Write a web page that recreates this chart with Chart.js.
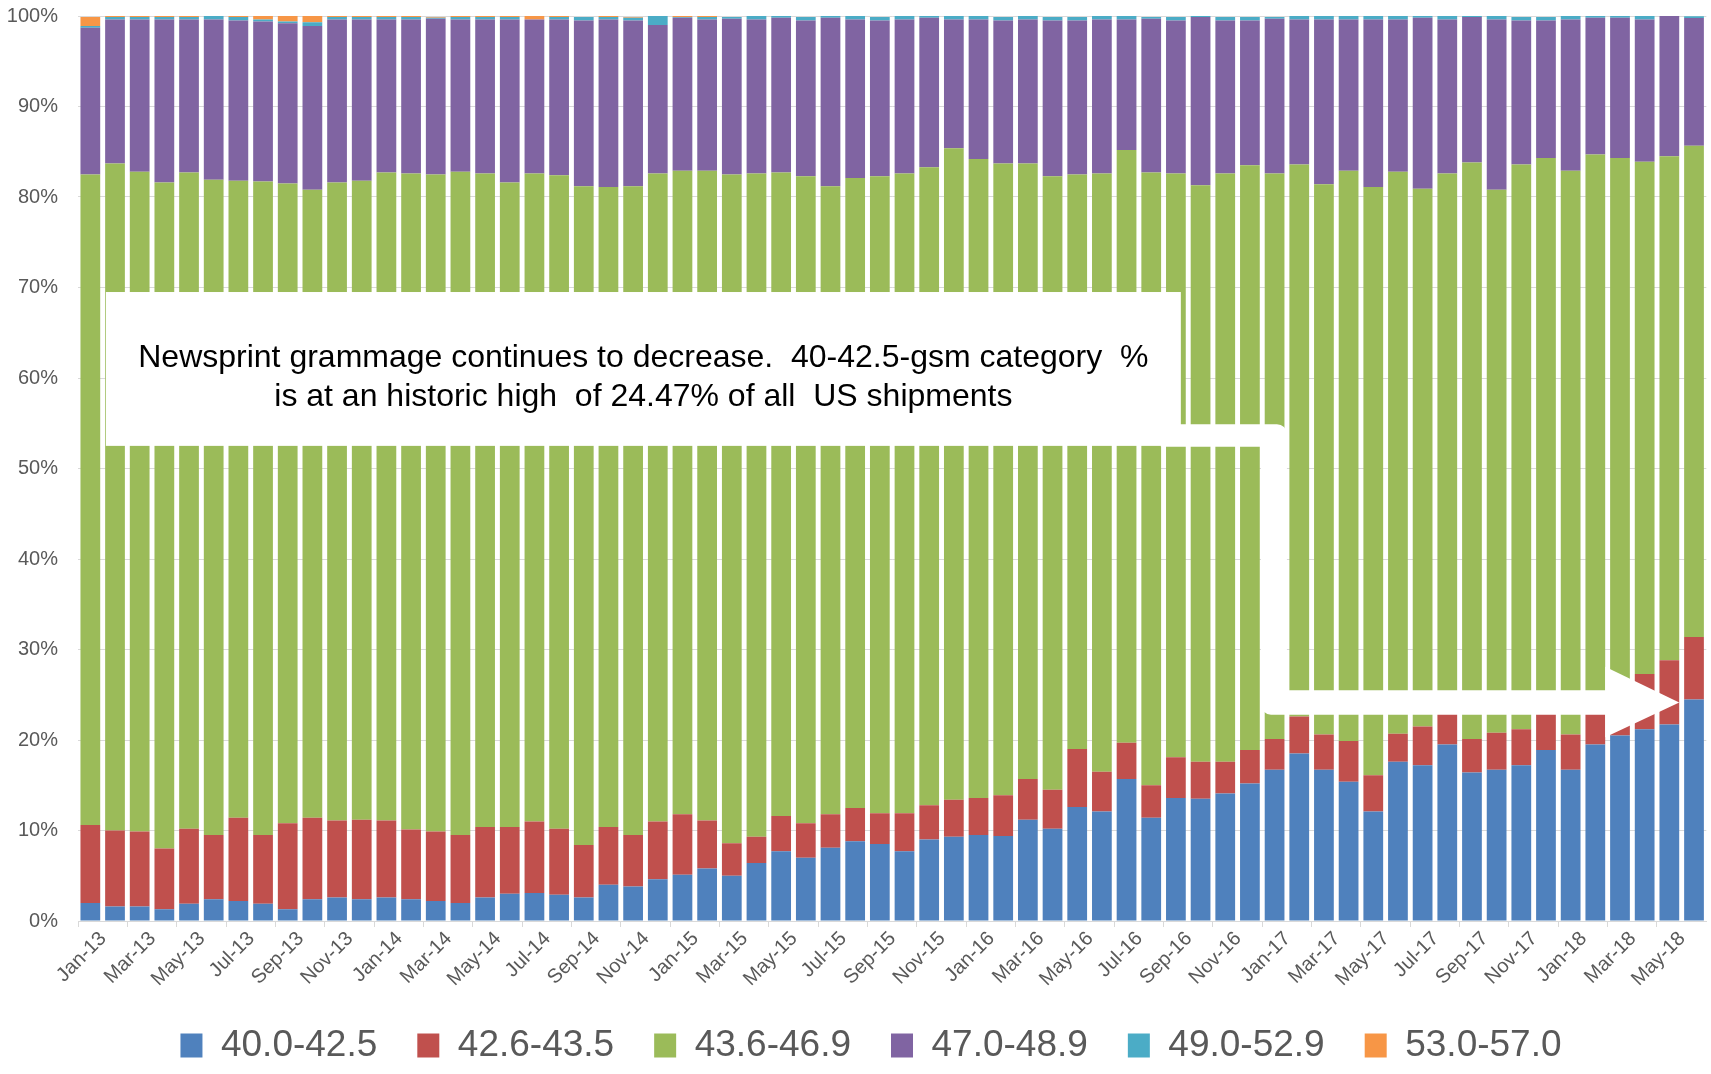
<!DOCTYPE html>
<html>
<head>
<meta charset="utf-8">
<script src="https://cdn.jsdelivr.net/npm/chart.js@4.4.1/dist/chart.umd.min.js"></script>
<style>
  html, body { margin: 0; padding: 0; background: #ffffff; }
  #wrap { width: 1711px; height: 1074px; }
</style>
</head>
<body>
<div id="wrap"><canvas id="chart" width="1711" height="1074"></canvas></div>
<script>
// Monthly categories, Jan-13 .. Jun-18
const months = [
  'Jan-13','Feb-13','Mar-13','Apr-13','May-13','Jun-13','Jul-13','Aug-13','Sep-13','Oct-13','Nov-13','Dec-13',
  'Jan-14','Feb-14','Mar-14','Apr-14','May-14','Jun-14','Jul-14','Aug-14','Sep-14','Oct-14','Nov-14','Dec-14',
  'Jan-15','Feb-15','Mar-15','Apr-15','May-15','Jun-15','Jul-15','Aug-15','Sep-15','Oct-15','Nov-15','Dec-15',
  'Jan-16','Feb-16','Mar-16','Apr-16','May-16','Jun-16','Jul-16','Aug-16','Sep-16','Oct-16','Nov-16','Dec-16',
  'Jan-17','Feb-17','Mar-17','Apr-17','May-17','Jun-17','Jul-17','Aug-17','Sep-17','Oct-17','Nov-17','Dec-17',
  'Jan-18','Feb-18','Mar-18','Apr-18','May-18','Jun-18'
];

const seriesNames = ['40.0-42.5', '42.6-43.5', '43.6-46.9', '47.0-48.9', '49.0-52.9', '53.0-57.0'];

// share of US shipments, % per grammage band
const gsm40 = [
  2.0, 1.6, 1.6, 1.3, 1.9, 2.4, 2.2, 1.9, 1.3, 2.4,
  2.6, 2.4, 2.6, 2.4, 2.2, 2.0, 2.6, 3.0, 3.1, 2.9,
  2.6, 4.0, 3.8, 4.6, 5.1, 5.8, 5.0, 6.4, 7.7, 7.0,
  8.1, 8.8, 8.5, 7.7, 9.0, 9.3, 9.5, 9.4, 11.2, 10.2,
  12.6, 12.1, 15.7, 11.4, 13.6, 13.5, 14.1, 15.2, 16.7, 18.5,
  16.7, 15.4, 12.1, 17.6, 17.2, 19.5, 16.4, 16.7, 17.2, 18.9,
  16.7, 19.5, 20.5, 21.2, 21.7, 24.47
];
const gsm42 = [
  8.6, 8.4, 8.3, 6.7, 8.3, 7.1, 9.2, 7.6, 9.5, 9.0,
  8.5, 8.8, 8.5, 7.7, 7.7, 7.5, 7.8, 7.4, 7.9, 7.3,
  5.8, 6.4, 5.7, 6.4, 6.7, 5.3, 3.6, 2.9, 3.9, 3.8,
  3.7, 3.7, 3.4, 4.2, 3.8, 4.1, 4.1, 4.5, 4.5, 4.3,
  6.4, 4.4, 4.0, 3.6, 4.5, 4.1, 3.5, 3.7, 3.4, 4.1,
  3.9, 4.5, 4.0, 3.1, 4.3, 3.6, 3.7, 4.1, 4.0, 4.0,
  3.9, 3.6, 2.5, 6.1, 7.1, 6.9
];
const gsm43 = [
  71.9, 73.7, 72.9, 73.6, 72.5, 72.4, 70.4, 72.2, 70.7, 69.4,
  70.5, 70.6, 71.6, 72.5, 72.6, 73.3, 72.2, 71.2, 71.6, 72.2,
  72.8, 70.7, 71.7, 71.6, 71.1, 71.8, 73.9, 73.3, 71.1, 71.5,
  69.4, 69.6, 70.4, 70.7, 70.5, 72.0, 70.6, 69.8, 68.0, 67.8,
  63.5, 66.1, 65.5, 67.7, 64.5, 63.7, 65.0, 64.6, 62.5, 61.0,
  60.8, 63.0, 65.0, 62.1, 59.4, 59.5, 63.7, 60.0, 62.4, 61.4,
  62.3, 61.6, 61.3, 56.6, 55.7, 54.3
];
const gsm47 = [
  16.2, 15.9, 16.8, 18.0, 16.9, 17.7, 17.7, 17.7, 17.7, 18.1,
  18.0, 17.8, 16.9, 17.0, 17.2, 16.8, 17.0, 18.0, 17.0, 17.2,
  18.3, 18.5, 18.3, 16.4, 16.9, 16.7, 17.2, 17.0, 17.1, 17.2,
  18.6, 17.5, 17.2, 17.0, 16.5, 14.2, 15.4, 15.8, 15.9, 17.2,
  17.0, 17.0, 14.4, 17.0, 16.9, 18.6, 16.9, 16.0, 17.1, 16.0,
  18.2, 16.7, 18.5, 16.8, 18.9, 17.0, 16.1, 18.8, 15.9, 15.2,
  16.7, 15.1, 15.5, 15.7, 15.5, 14.1
];
const gsm49 = [
  0.2, 0.3, 0.3, 0.3, 0.3, 0.4, 0.4, 0.2, 0.2, 0.4,
  0.3, 0.3, 0.3, 0.3, 0.1, 0.3, 0.3, 0.3, 0.0, 0.3,
  0.4, 0.3, 0.3, 1.0, 0.1, 0.3, 0.2, 0.4, 0.2, 0.4,
  0.2, 0.4, 0.4, 0.4, 0.2, 0.4, 0.4, 0.4, 0.4, 0.4,
  0.4, 0.4, 0.4, 0.2, 0.4, 0.2, 0.4, 0.4, 0.2, 0.4,
  0.4, 0.4, 0.4, 0.4, 0.2, 0.4, 0.2, 0.4, 0.4, 0.4,
  0.4, 0.2, 0.2, 0.4, 0.1, 0.2
];
const gsm53 = [
  1.0, 0.1, 0.1, 0.1, 0.1, 0.0, 0.1, 0.4, 0.6, 0.7,
  0.1, 0.1, 0.1, 0.1, 0.1, 0.1, 0.1, 0.1, 0.4, 0.1,
  0.0, 0.1, 0.1, 0.1, 0.1, 0.1, 0.0, 0.0, 0.0, 0.0,
  0, 0, 0, 0, 0, 0, 0, 0, 0, 0,
  0, 0, 0, 0, 0, 0, 0, 0, 0, 0,
  0, 0, 0, 0, 0, 0, 0, 0, 0, 0,
  0, 0, 0, 0, 0, 0
];

const yTicks = [0, 10, 20, 30, 40, 50, 60, 70, 80, 90, 100];

const calloutLines = [
  'Newsprint grammage continues to decrease.  40-42.5-gsm category  %',
  'is at an historic high  of 24.47% of all  US shipments'
];

const colors = ['#4f81bd', '#c0504d', '#9bbb59', '#8064a2', '#4bacc6', '#f79646'];
const axisText = '#595959';
const gridGrey = '#d9d9d9';
const fontFamily = '"Liberation Sans", Arial, sans-serif';

// white text box + bent arrow drawn over the bars, placed in scale units
const calloutPlugin = {
  id: 'callout',
  afterLayout(chart) {
    // legend sits a little right of the canvas centre in the original
    chart.legend.left += 17;
    chart.legend.right += 17;
  },
  afterDraw(chart) {
    const { ctx, scales: { x, y } } = chart;
    const px = i => x.getPixelForValue(i);
    const py = v => y.getPixelForValue(v);
    ctx.save();
    ctx.fillStyle = '#ffffff';

    const bx0 = px(0.63), bx1 = px(44.2);
    const by0 = py(69.5), by1 = py(52.5);
    ctx.fillRect(bx0, by0, bx1 - bx0, by1 - by0);

    const r = 10;
    const aTop = py(54.9), aBot = py(52.4);
    const sL = px(47.45), sR = px(48.5);
    const hTop = py(25.5), hBot = py(22.8);
    const headX = px(61.4), tipX = px(64.4);
    const headTop = py(28.1), headBot = py(20.3);
    const tipY = (hTop + hBot) / 2;

    ctx.beginPath();
    ctx.moveTo(bx1 - 20, aTop);
    ctx.lineTo(sR - r, aTop);
    ctx.arcTo(sR, aTop, sR, aTop + r, r);
    ctx.lineTo(sR, hTop);
    ctx.lineTo(headX, hTop);
    ctx.lineTo(headX, headTop);
    ctx.lineTo(tipX, tipY);
    ctx.lineTo(headX, headBot);
    ctx.lineTo(headX, hBot);
    ctx.lineTo(sL + r, hBot);
    ctx.arcTo(sL, hBot, sL, hBot - r, r);
    ctx.lineTo(sL, aBot);
    ctx.lineTo(bx1 - 20, aBot);
    ctx.closePath();
    ctx.fill();

    ctx.fillStyle = '#000000';
    ctx.font = '32px ' + fontFamily;
    ctx.textAlign = 'center';
    ctx.textBaseline = 'alphabetic';
    const cx = (bx0 + bx1) / 2;
    ctx.fillText(calloutLines[0], cx, py(61.2));
    ctx.fillText(calloutLines[1], cx, py(56.95));
    ctx.restore();
  }
};

const seriesData = [gsm40, gsm42, gsm43, gsm47, gsm49, gsm53];

new Chart(document.getElementById('chart'), {
  type: 'bar',
  data: {
    labels: months,
    datasets: seriesNames.map((name, i) => ({
      label: name,
      data: seriesData[i],
      backgroundColor: colors[i],
      borderWidth: 0,
      categoryPercentage: 1.0,
      barPercentage: 0.8,
    })),
  },
  options: {
    responsive: false,
    devicePixelRatio: 1,
    animation: false,
    layout: { padding: { top: 16, left: 0, right: 3, bottom: 0 } },
    plugins: {
      tooltip: { enabled: false },
      legend: {
        position: 'bottom',
        labels: {
          boxWidth: 22,
          boxHeight: 24,
          padding: 40,
          color: axisText,
          font: { family: fontFamily, size: 37 },
        },
      },
    },
    scales: {
      x: {
        stacked: true,
        afterFit: scale => { scale.height = 66; },
        grid: {
          offset: true,
          drawOnChartArea: false,
          drawTicks: true,
          tickLength: 6,
          tickColor: c => (c.index % 2 === 0 ? gridGrey : 'rgba(0,0,0,0)'),
        },
        border: { color: gridGrey, width: 1 },
        ticks: {
          autoSkip: false,
          minRotation: 45,
          maxRotation: 45,
          padding: 0,
          labelOffset: 13,
          color: axisText,
          font: { family: fontFamily, size: 20 },
          callback: (v, i) => (i % 2 === 0 ? months[i] : ''),
        },
      },
      y: {
        stacked: true,
        min: 0,
        max: 100,
        afterFit: scale => { scale.width = 78; },
        afterBuildTicks: scale => { scale.ticks = yTicks.map(v => ({ value: v })); },
        grid: { color: gridGrey, lineWidth: 1, drawTicks: true, tickLength: 20, tickColor: 'rgba(0,0,0,0)' },
        border: { display: false },
        ticks: {
          padding: 0,
          color: axisText,
          font: { family: fontFamily, size: 20 },
          callback: v => v + '%',
        },
      },
    },
  },
  plugins: [calloutPlugin],
});
</script>
</body>
</html>
